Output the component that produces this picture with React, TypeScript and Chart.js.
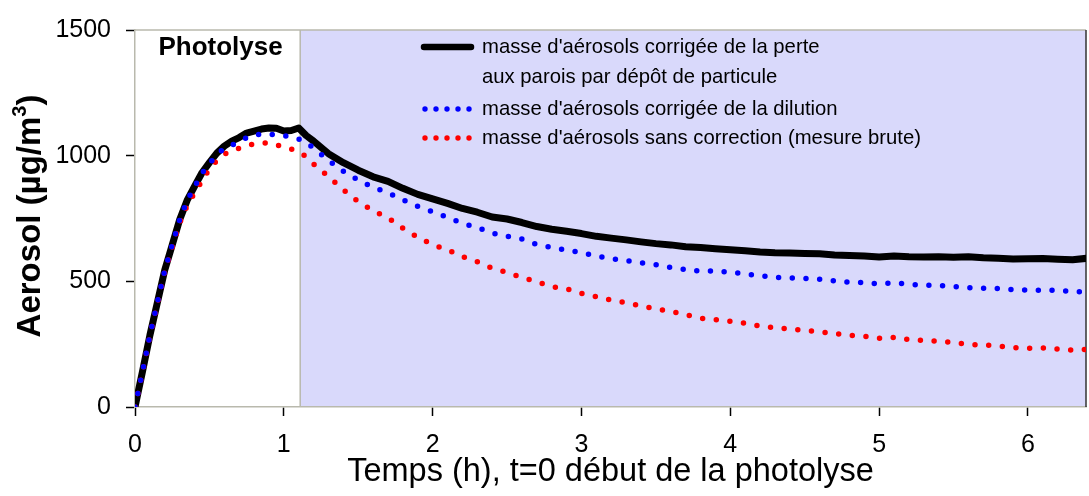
import React, { useEffect, useRef } from "react";
import { Chart, registerables } from "chart.js";

Chart.register(...registerables);

// ---- Data ----
const times = [
  0, 0.05, 0.1, 0.15, 0.2, 0.25, 0.3, 0.35, 0.4, 0.45, 0.5, 0.55, 0.6, 0.65,
  0.7, 0.75, 0.8, 0.85, 0.9, 0.95, 1.0, 1.05, 1.1, 1.15, 1.2, 1.25, 1.3,
  1.4, 1.5, 1.6, 1.7, 1.8, 1.9, 2.0, 2.1, 2.2, 2.3, 2.4, 2.5, 2.6, 2.7, 2.8,
  2.9, 3.0, 3.1, 3.2, 3.3, 3.4, 3.5, 3.6, 3.7, 3.8, 3.9, 4.0, 4.1, 4.2, 4.3,
  4.4, 4.5, 4.6, 4.7, 4.8, 4.9, 5.0, 5.1, 5.2, 5.3, 5.4, 5.5, 5.6, 5.7, 5.8,
  5.9, 6.0, 6.1, 6.2, 6.3, 6.4,
];

// masse corrigée de la perte aux parois (black)
const wallCorrected = [
  0, 140, 285, 415, 545, 645, 745, 822, 878, 932, 972, 1010, 1038, 1058,
  1072, 1090, 1098, 1106, 1110, 1109, 1098, 1100, 1110, 1080, 1058, 1033, 1008,
  972, 942, 916, 898, 870, 846, 828, 810, 790, 775, 756, 748, 734, 718, 707,
  699, 690, 679, 672, 665, 657, 650, 645, 638, 635, 630, 626, 622, 617, 614,
  613, 611, 610, 605, 603, 601, 597, 601, 598, 597, 598, 596, 598, 594, 592,
  589, 590, 591, 588, 586, 592,
];

// masse corrigée de la dilution (blue)
const dilutionCorrected = [
  0, 140, 285, 415, 544, 645, 745, 821, 876, 930, 969, 1003, 1030, 1041,
  1056, 1071, 1081, 1087, 1086, 1083, 1079, 1075, 1066, 1052, 1030, 1006, 981,
  938, 903, 874, 852, 824, 798, 777, 754, 731, 714, 692, 679, 668, 647, 634,
  625, 614, 601, 590, 583, 574, 566, 555, 547, 540, 541, 536, 530, 522, 516,
  513, 512, 508, 502, 497, 495, 489, 494, 488, 485, 484, 479, 475, 473, 471,
  467, 465, 464, 465, 458, 460,
];

// masse sans correction (red)
const rawMeasure = [
  0, 138, 282, 410, 538, 635, 732, 800, 852, 899, 948, 981, 1006, 1018,
  1030, 1040, 1047, 1051, 1050, 1043, 1034, 1026, 1015, 997, 967, 942, 917,
  864, 817, 781, 753, 711, 675, 646, 625, 598, 578, 552, 535, 516, 498, 479,
  470, 452, 439, 425, 415, 402, 390, 380, 367, 353, 348, 341, 333, 322, 315,
  310, 305, 299, 292, 285, 281, 273, 277, 268, 265, 262, 256, 249, 247, 243,
  236, 234, 235, 231, 226, 229,
];

const seriesLabels = [
  ["masse d'aérosols corrigée de la perte", "aux parois par dépôt de particule"],
  ["masse d'aérosols corrigée de la dilution"],
  ["masse d'aérosols sans correction (mesure brute)"],
];

const xTicks = [0, 1, 2, 3, 4, 5, 6];
const yTicks = [0, 500, 1000, 1500];
const xMin = 0;
const xMax = 6.39;
const yMin = 0;
const yMax = 1500;
const photolysisEnd = 1.11;
const photolysisLabel = "Photolyse";
const xTitle = "Temps (h), t=0 début de la photolyse";
const yTitleMain = "Aerosol (µg/m";
const yTitleSup = "3";
const yTitleEnd = ")";

const FONT = "'Liberation Sans', Arial, Helvetica, sans-serif";
const AXIS_GRAY = "#b9b9ad";
const SHADE = "#d9d9fb";
const BLUE = "#0000ff";
const RED = "#ff0000";

const decorPlugin = {
  id: "decor",
  beforeDraw(chart: any) {
    const { ctx, chartArea: a, scales } = chart;
    const xs = scales.x.getPixelForValue(photolysisEnd);
    ctx.save();
    ctx.fillStyle = SHADE;
    ctx.fillRect(xs, a.top, a.right - xs, a.bottom - a.top);
    ctx.restore();
  },
  beforeDatasetsDraw(chart: any) {
    const { ctx, chartArea: a, scales } = chart;
    const xs = scales.x.getPixelForValue(photolysisEnd);
    ctx.save();
    ctx.lineWidth = 1.5;
    ctx.strokeStyle = AXIS_GRAY;
    ctx.beginPath();
    ctx.moveTo(xs, a.top);
    ctx.lineTo(xs, a.bottom);
    ctx.moveTo(a.left, a.top);
    ctx.lineTo(a.right, a.top);
    ctx.stroke();
    ctx.strokeStyle = "#333333";
    ctx.beginPath();
    ctx.moveTo(a.right, a.top);
    ctx.lineTo(a.right, a.bottom);
    ctx.stroke();
    ctx.restore();
  },
  afterDatasetsDraw(chart: any) {
    const { ctx, scales } = chart;
    ctx.save();
    // Photolyse label
    ctx.fillStyle = "#000";
    ctx.font = `bold 26px ${FONT}`;
    ctx.textAlign = "center";
    ctx.textBaseline = "middle";
    ctx.fillText(photolysisLabel, scales.x.getPixelForValue(photolysisEnd / 2) + 3, 48);

    // Legend
    const sx0 = 424;
    const sx1 = 471;
    const tx = 482;
    const rows = [47, 77, 109, 138];
    ctx.strokeStyle = "#000";
    ctx.lineWidth = 6.5;
    ctx.lineCap = "round";
    ctx.beginPath();
    ctx.moveTo(sx0, rows[0]);
    ctx.lineTo(sx1, rows[0]);
    ctx.stroke();
    const dotRow = (y: number, color: string) => {
      ctx.fillStyle = color;
      for (let i = 0; i < 5; i++) {
        ctx.beginPath();
        ctx.arc(425 + i * 11, y, 2.7, 0, Math.PI * 2);
        ctx.fill();
      }
    };
    dotRow(rows[2], BLUE);
    dotRow(rows[3], RED);
    ctx.fillStyle = "#000";
    ctx.font = `20.3px ${FONT}`;
    ctx.textAlign = "left";
    ctx.textBaseline = "middle";
    ctx.fillText(seriesLabels[0][0], tx, rows[0]);
    ctx.fillText(seriesLabels[0][1], tx, rows[1]);
    ctx.fillText(seriesLabels[1][0], tx, rows[2]);
    ctx.fillText(seriesLabels[2][0], tx, rows[3]);
    ctx.restore();
  },
  afterDraw(chart: any) {
    const { ctx } = chart;
    ctx.save();
    ctx.translate(31, 216);
    ctx.rotate(-Math.PI / 2);
    ctx.fillStyle = "#000";
    ctx.textBaseline = "middle";
    const big = `bold 33px ${FONT}`;
    const small = `bold 20px ${FONT}`;
    ctx.font = big;
    const wMain = ctx.measureText(yTitleMain).width;
    ctx.font = small;
    const wSup = ctx.measureText(yTitleSup).width;
    ctx.font = big;
    const wEnd = ctx.measureText(yTitleEnd).width;
    const total = wMain + wSup + wEnd;
    let x = -total / 2;
    ctx.textAlign = "left";
    ctx.fillText(yTitleMain, x, 0);
    x += wMain;
    ctx.font = small;
    ctx.fillText(yTitleSup, x, -11);
    x += wSup;
    ctx.font = big;
    ctx.fillText(yTitleEnd, x, 0);
    ctx.restore();
  },
};

export default function App() {
  const canvasRef = useRef<HTMLCanvasElement | null>(null);

  useEffect(() => {
    const canvas = canvasRef.current;
    if (!canvas) return;
    const toPts = (vals: number[]) => times.map((t, i) => ({ x: t, y: vals[i] }));
    const chart = new Chart(canvas, {
      type: "line",
      data: {
        datasets: [
          {
            label: seriesLabels[1].join(" "),
            data: toPts(dilutionCorrected),
            borderColor: BLUE,
            borderWidth: 5.5,
            borderDash: [0, 13.7],
            borderCapStyle: "round",
            pointRadius: 0,
            tension: 0,
            order: 0,
          },
          {
            label: seriesLabels[2].join(" "),
            data: toPts(rawMeasure),
            borderColor: RED,
            borderWidth: 5.5,
            borderDash: [0, 13.7],
            borderCapStyle: "round",
            pointRadius: 0,
            tension: 0,
            order: 1,
          },
          {
            label: seriesLabels[0].join(" "),
            data: toPts(wallCorrected),
            borderColor: "#000000",
            borderWidth: 7,
            borderJoinStyle: "round",
            borderCapStyle: "round",
            pointRadius: 0,
            tension: 0,
            order: 2,
          },
        ],
      },
      options: {
        responsive: false,
        animation: false,
        devicePixelRatio: 1,
        layout: { padding: { top: 24, right: 3, left: 0, bottom: 0 } },
        plugins: {
          legend: { display: false },
          tooltip: { enabled: false },
        },
        scales: {
          x: {
            type: "linear",
            min: xMin,
            max: xMax,
            afterBuildTicks: (scale: any) => {
              scale.ticks = xTicks.map((v) => ({ value: v }));
            },
            afterFit: (scale: any) => {
              scale.height = 89;
            },
            grid: {
              drawOnChartArea: false,
              drawTicks: true,
              tickLength: 9,
              tickColor: "#000",
              tickWidth: 1.5,
            },
            border: { display: true, color: AXIS_GRAY, width: 1.5 },
            ticks: {
              color: "#000",
              font: { family: FONT, size: 25 },
              padding: 14,
              maxRotation: 0,
              autoSkip: false,
              callback: (v: any) => String(v),
            },
            title: {
              display: true,
              text: xTitle,
              color: "#000",
              font: { family: FONT, size: 32.5 },
              padding: { top: 0, bottom: 4 },
            },
          },
          y: {
            type: "linear",
            min: yMin,
            max: yMax,
            afterBuildTicks: (scale: any) => {
              scale.ticks = yTicks.map((v) => ({ value: v }));
            },
            afterFit: (scale: any) => {
              scale.width = 135;
            },
            grid: {
              drawOnChartArea: false,
              drawTicks: true,
              tickLength: 9,
              tickColor: "#000",
              tickWidth: 1.5,
            },
            border: { display: true, color: AXIS_GRAY, width: 1.5 },
            ticks: {
              color: "#000",
              font: { family: FONT, size: 25 },
              padding: 15,
              autoSkip: false,
              callback: (v: any) => String(v),
            },
          },
        },
      },
      plugins: [decorPlugin],
    } as any);
    return () => chart.destroy();
  }, []);

  return (
    <div style={{ position: "absolute", left: 0, top: 0, width: 1089, height: 496, background: "#fff" }}>
      <canvas ref={canvasRef} width={1089} height={496} style={{ display: "block" }} />
    </div>
  );
}
